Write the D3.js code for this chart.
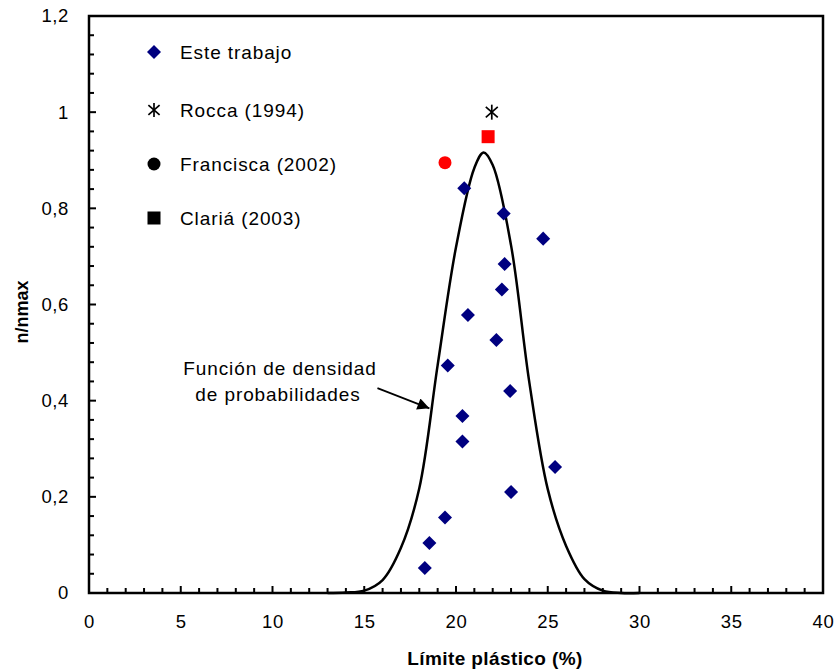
<!DOCTYPE html>
<html>
<head>
<meta charset="utf-8">
<script src="https://cdn.jsdelivr.net/npm/d3@7"></script>
<style>
  body { margin: 0; background: #fff; }
  text { font-family: "Liberation Sans", Arial, sans-serif; }
</style>
</head>
<body>
<svg id="chart" width="839" height="670"></svg>
<script>
// data
var esteX = [20.45, 22.6, 24.75, 22.65, 22.5, 20.65, 22.2, 19.55, 22.95, 20.35, 20.35, 25.4, 23.0, 19.4, 18.55, 18.3];
var esteY = [0.842, 0.789, 0.737, 0.684, 0.631, 0.578, 0.526, 0.473, 0.420, 0.368, 0.315, 0.262, 0.210, 0.157, 0.104, 0.052];
var roccaX = [21.95];
var roccaY = [1.0];
var franciscaX = [19.4];
var franciscaY = [0.895];
var clariaX = [21.75];
var clariaY = [0.949];
var curveX = [13, 14, 15, 16, 17, 18, 19, 20, 21, 21.5, 22, 23, 24, 25, 26, 27, 28, 29, 30];
var curveY = [0, 0.001, 0.005, 0.027, 0.094, 0.218, 0.474, 0.719, 0.884, 0.916, 0.89, 0.723, 0.437, 0.216, 0.098, 0.029, 0.005, 0, 0];
var xTicks = [0, 5, 10, 15, 20, 25, 30, 35, 40];
var yTicks = [0, 0.2, 0.4, 0.6, 0.8, 1, 1.2];
var legendLabels = ["Este trabajo", "Rocca (1994)", "Francisca (2002)", "Clariá (2003)"];

var svg = d3.select("#chart");
var plotLeft = 89, plotRight = 823, plotTop = 16, plotBottom = 593;

var x = d3.scaleLinear().domain([0, 40]).range([plotLeft, plotRight]);
var y = d3.scaleLinear().domain([0, 1.2]).range([plotBottom, plotTop]);
var fmt = function (d) { return String(+d.toFixed(1)).replace(".", ","); };

svg.append("rect").attr("width", 839).attr("height", 670).attr("fill", "#fff");

// minor ticks
var g = svg.append("g");
g.selectAll(".xm")
  .data(d3.range(0, 41, 1))
  .enter()
  .append("line")
  .attr("x1", (d) => x(d))
  .attr("x2", (d) => x(d))
  .attr("y1", plotBottom)
  .attr("y2", (d) => plotBottom - (d % 5 == 0 ? 7 : 5))
  .attr("stroke", "#000")
  .attr("stroke-width", 2);
g.selectAll(".ym")
  .data(d3.range(0, 31, 1).map((i) => i * 0.04))
  .enter()
  .append("line")
  .attr("x1", plotLeft)
  .attr("x2", (d, i) => plotLeft + (i % 5 == 0 ? 7 : 5))
  .attr("y1", (d) => y(d))
  .attr("y2", (d) => y(d))
  .attr("stroke", "#000")
  .attr("stroke-width", 2);

// tick labels through axes
svg.append("g")
  .attr("transform", `translate(0,${plotBottom})`)
  .call(d3.axisBottom(x).tickValues(xTicks).tickSize(0).tickPadding(22).tickFormat(fmt))
  .call((g) => g.select(".domain").remove())
  .selectAll("text")
  .attr("font-size", 18.5)
  .attr("letter-spacing", 0.6)
  .attr("font-family", "Liberation Sans, Arial, sans-serif")
  .attr("fill", "#000");

svg.append("g")
  .attr("transform", `translate(${plotLeft},0)`)
  .call(d3.axisLeft(y).tickValues(yTicks).tickSize(0).tickPadding(20).tickFormat(fmt))
  .call((g) => g.select(".domain").remove())
  .selectAll("text")
  .attr("font-size", 18.5)
  .attr("letter-spacing", 0.6)
  .attr("font-family", "Liberation Sans, Arial, sans-serif")
  .attr("fill", "#000");

// frame
svg.append("rect")
  .attr("x", plotLeft)
  .attr("y", plotTop)
  .attr("width", plotRight - plotLeft)
  .attr("height", plotBottom - plotTop)
  .attr("fill", "none")
  .attr("stroke", "#000")
  .attr("stroke-width", 2.5);

// density curve
var line = d3.line()
  .x((d, i) => x(curveX[i]))
  .y((d) => y(d))
  .curve(d3.curveCatmullRom.alpha(0.5));
svg.append("path")
  .datum(curveY)
  .attr("d", line)
  .attr("fill", "none")
  .attr("stroke", "#000")
  .attr("stroke-width", 2.5);

// markers
var diamond = d3.symbol().type(d3.symbolDiamond2).size(125);
function drawStar(sel, cx, cy, r) {
  var s = sel.append("g").attr("transform", `translate(${cx},${cy})`);
  [[0, -r, 0, r], [-r * 0.8, -r * 0.7, r * 0.8, r * 0.7], [-r * 0.8, r * 0.7, r * 0.8, -r * 0.7]].forEach(function (p) {
    s.append("line")
      .attr("x1", p[0]).attr("y1", p[1]).attr("x2", p[2]).attr("y2", p[3])
      .attr("stroke", "#000").attr("stroke-width", 1.7);
  });
}

svg.append("g")
  .selectAll("path")
  .data(esteY)
  .enter()
  .append("path")
  .attr("d", diamond)
  .attr("transform", (d, i) => `translate(${x(esteX[i])},${y(d)})`)
  .attr("fill", "#000080");

roccaY.forEach((d, i) => drawStar(svg, x(roccaX[i]), y(d), 7.5));

svg.append("g")
  .selectAll("circle")
  .data(franciscaY)
  .enter()
  .append("circle")
  .attr("cx", (d, i) => x(franciscaX[i]))
  .attr("cy", (d) => y(d))
  .attr("r", 6.5)
  .attr("fill", "#ff0000");

svg.append("g")
  .selectAll("rect")
  .data(clariaY)
  .enter()
  .append("rect")
  .attr("x", (d, i) => x(clariaX[i]) - 6.5)
  .attr("y", (d) => y(d) - 6.5)
  .attr("width", 13)
  .attr("height", 13)
  .attr("fill", "#ff0000");

// legend
var legY = [52, 110, 164, 218];
var legX = 154;
var leg = svg.append("g");
leg.append("path")
  .attr("d", diamond)
  .attr("transform", `translate(${legX},${legY[0]})`)
  .attr("fill", "#000080");
drawStar(leg, legX, legY[1], 7);
leg.append("circle").attr("cx", legX).attr("cy", legY[2]).attr("r", 6.5).attr("fill", "#000");
leg.append("rect").attr("x", legX - 6.5).attr("y", legY[3] - 6.5).attr("width", 13).attr("height", 13).attr("fill", "#000");
leg.selectAll("text")
  .data(legendLabels)
  .enter()
  .append("text")
  .attr("x", 180)
  .attr("y", (d, i) => legY[i] + 7)
  .attr("font-size", 19)
  .attr("letter-spacing", 0.9)
  .text((d) => d);

// annotation
var ann = svg.append("g");
ann.append("text")
  .attr("x", 280)
  .attr("y", 375)
  .attr("text-anchor", "middle")
  .attr("font-size", 19)
  .attr("letter-spacing", 0.9)
  .text("Función de densidad");
ann.append("text")
  .attr("x", 278)
  .attr("y", 401)
  .attr("text-anchor", "middle")
  .attr("font-size", 19)
  .attr("letter-spacing", 0.9)
  .text("de probabilidades");

svg.append("defs")
  .append("marker")
  .attr("id", "arrow")
  .attr("viewBox", "0 0 10 10")
  .attr("refX", 10)
  .attr("refY", 5)
  .attr("markerWidth", 10)
  .attr("markerHeight", 7)
  .attr("markerUnits", "strokeWidth")
  .attr("orient", "auto")
  .append("path")
  .attr("d", "M0,0 L10,5 L0,10 Z")
  .attr("fill", "#000");

ann.append("line")
  .attr("x1", x(15.72))
  .attr("y1", y(0.426))
  .attr("x2", x(18.55))
  .attr("y2", y(0.384))
  .attr("stroke", "#000")
  .attr("stroke-width", 1.7)
  .attr("marker-end", "url(#arrow)");

// axis titles
svg.append("text")
  .attr("x", 495)
  .attr("y", 665)
  .attr("text-anchor", "middle")
  .attr("font-size", 19)
  .attr("font-weight", "bold")
  .attr("letter-spacing", 0.4)
  .text("Límite plástico (%)");
svg.append("text")
  .attr("transform", "translate(28,312) rotate(-90)")
  .attr("text-anchor", "middle")
  .attr("font-size", 18)
  .attr("font-weight", "bold")
  .text("n/nmax");
</script>
</body>
</html>
